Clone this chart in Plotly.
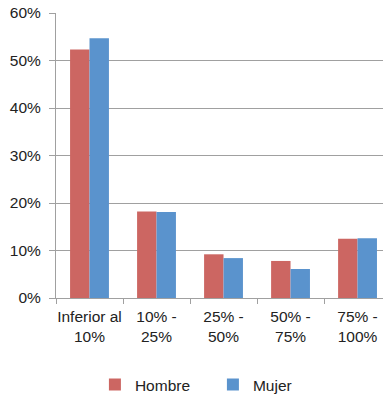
import plotly.graph_objects as go

categories = ["Inferior al<br>10%", "10% -<br>25%", "25% -<br>50%", "50% -<br>75%", "75% -<br>100%"]
hombre = [0.523, 0.182, 0.092, 0.078, 0.125]
mujer = [0.547, 0.181, 0.084, 0.061, 0.126]
y_ticks = [0, 0.1, 0.2, 0.3, 0.4, 0.5, 0.6]

fig = go.Figure()
fig.add_trace(go.Bar(name="Hombre", x=categories, y=hombre, marker_color="#CC6662",
                     marker_line_width=0))
fig.add_trace(go.Bar(name="Mujer", x=categories, y=mujer, marker_color="#5A93CD",
                     marker_line_width=0))

fig.update_layout(
    width=383, height=400,
    margin=dict(l=56, r=0, t=13, b=102, autoexpand=False),
    paper_bgcolor="white", plot_bgcolor="white",
    barmode="group", bargap=0.42, bargroupgap=0,
    font=dict(family="Liberation Sans, Arial, sans-serif", size=15.5, color="#222"),
    legend=dict(orientation="h", x=0.119, xanchor="left", y=-0.305, yanchor="middle",
                font=dict(size=15.5), entrywidth=73, itemwidth=30, traceorder="normal"),
    showlegend=True,
)
fig.update_xaxes(range=[-0.5, 4.38], automargin=False, tickangle=0,
                 ticklabeloverflow="allow", ticklabelstandoff=4,
                 showline=True, linecolor="#A0A0A0", linewidth=1,
                 ticks="outside", tickson="boundaries", ticklen=5, tickcolor="#A0A0A0",
                 showgrid=False)
fig.update_yaxes(range=[0, 0.6], tickvals=y_ticks, tickformat=".0%", automargin=False,
                 ticklabeloverflow="allow",
                 showline=True, linecolor="#A0A0A0", linewidth=1,
                 ticks="outside", ticklen=6, tickcolor="#A0A0A0", ticklabelstandoff=5,
                 showgrid=True, gridcolor="#A0A0A0", gridwidth=1, zeroline=False)

fig.write_html("out.html", config={"displayModeBar": False},
               post_script="document.body.style.margin='0';document.body.style.overflow='hidden';")
